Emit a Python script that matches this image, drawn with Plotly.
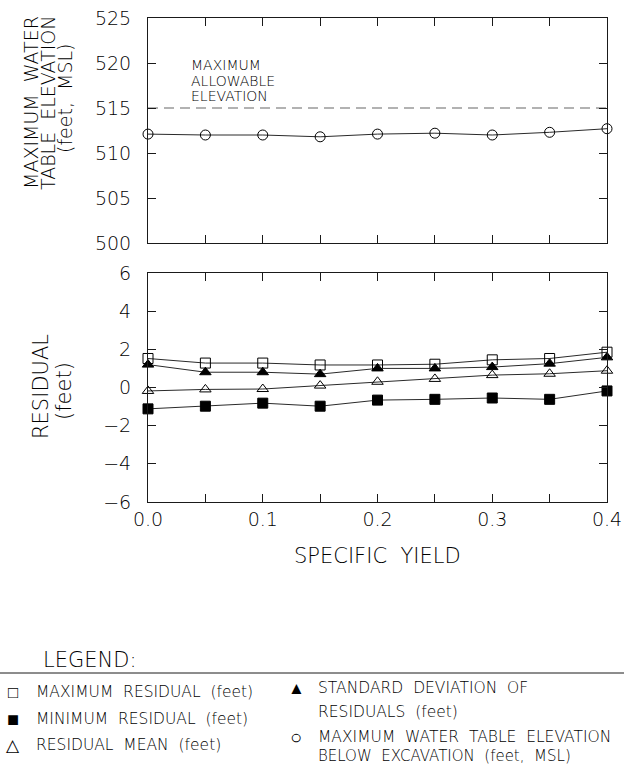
import plotly.graph_objects as go

# ---------------- data ----------------
specific_yield = [0.0, 0.05, 0.10, 0.15, 0.20, 0.25, 0.30, 0.35, 0.40]
max_wt_elev = [512.1, 512.0, 512.0, 511.8, 512.1, 512.2, 512.0, 512.3, 512.7]
max_allowable = 515.0

max_residual = [1.52, 1.28, 1.28, 1.18, 1.18, 1.22, 1.45, 1.52, 1.85]
min_residual = [-1.12, -0.98, -0.82, -0.98, -0.66, -0.62, -0.55, -0.62, -0.18]
mean_residual = [-0.18, -0.10, -0.08, 0.10, 0.30, 0.45, 0.65, 0.72, 0.88]
std_residual = [1.20, 0.80, 0.80, 0.70, 1.00, 1.00, 1.07, 1.25, 1.58]

x_tickvals = [0.0, 0.05, 0.10, 0.15, 0.20, 0.25, 0.30, 0.35, 0.40]
x_ticktext = ["0.0", "", "0.1", "", "0.2", "", "0.3", "", "0.4"]

# ---------------- layout geometry (pixels) ----------------
W, H = 628, 767
ML, MR, MT, MB = 148, 21, 18, 265
PW = W - ML - MR
PH = H - MT - MB


def px(x):
    return (x - ML) / PW


def py(y):
    return (H - MB - y) / PH


FONT = "DejaVu Sans"
INK = "#000000"
LINE = "#2a2a2a"
WT = 200

fig = go.Figure()

# top panel
fig.add_trace(go.Scatter(
    x=[specific_yield[0], specific_yield[-1]], y=[max_allowable, max_allowable],
    mode="lines", line=dict(color="#666666", width=1.2, dash="10px,6px"),
    xaxis="x", yaxis="y", showlegend=False, hoverinfo="skip"))
fig.add_trace(go.Scatter(
    x=specific_yield, y=max_wt_elev, mode="lines+markers",
    line=dict(color=LINE, width=1),
    marker=dict(symbol="circle-open", size=10, color=INK, line=dict(width=1)),
    xaxis="x", yaxis="y", cliponaxis=False, showlegend=False))

# bottom panel
series = [
    (max_residual, "square-open", 10),
    (std_residual, "triangle-up", 10),
    (mean_residual, "triangle-up-open", 10),
    (min_residual, "square", 10),
]
for vals, sym, sz in series:
    fig.add_trace(go.Scatter(
        x=specific_yield, y=vals, mode="lines+markers",
        line=dict(color=LINE, width=1),
        marker=dict(symbol=sym, size=sz, color=INK, line=dict(width=1, color=INK)),
        xaxis="x2", yaxis="y2", cliponaxis=False, showlegend=False))

axis_common = dict(
    showline=True, linecolor="#1a1a1a", linewidth=1, mirror="ticks",
    ticks="inside", ticklen=8, tickwidth=1, tickcolor="#1a1a1a",
    showgrid=False, zeroline=False, automargin=False,
    tickfont=dict(family=FONT, size=19, color=INK, weight=WT),
)

top_bottom = py(243)
bot_top = py(273)

fig.update_layout(
    width=W, height=H,
    margin=dict(l=ML, r=MR, t=MT, b=MB),
    paper_bgcolor="white", plot_bgcolor="white",
    font=dict(family=FONT, color=INK, weight=WT),
    xaxis=dict(domain=[0, 1], range=[0, 0.4], tickvals=x_tickvals,
               showticklabels=False, anchor="y", **axis_common),
    yaxis=dict(domain=[top_bottom, 1], range=[500, 525], dtick=5,
               ticklabelstandoff=12, anchor="x", **axis_common),
    xaxis2=dict(domain=[0, 1], range=[0, 0.4], tickvals=x_tickvals,
                ticktext=x_ticktext, ticklabelstandoff=0, anchor="y2",
                **axis_common),
    yaxis2=dict(domain=[0, bot_top], range=[-6, 6], dtick=2,
                ticklabelstandoff=12, anchor="x2", **axis_common),
)

ann = []


def text(x, y, s, size, xanchor="left", angle=0):
    ann.append(dict(x=px(x), y=py(y), xref="paper", yref="paper", text=s,
                    showarrow=False, xanchor=xanchor, yanchor="middle",
                    textangle=angle,
                    font=dict(family=FONT, size=size, color=INK, weight=WT)))


# y axis titles
text(31, 103, "MAXIMUM  WATER", 19, "center", -90)
text(48, 103, "TABLE  ELEVATION", 19, "center", -90)
text(65, 98, "(feet,  MSL)", 19, "center", -90)
text(41, 387, "RESIDUAL", 21, "center", -90)
text(64, 391, "(feet)", 21, "center", -90)

# x axis title
text(377, 556, "SPECIFIC  YIELD", 21, "center")

# inner annotation
text(189, 65, "MAXIMUM", 14)
text(189, 81, "ALLOWABLE", 14)
text(189, 96, "ELEVATION", 14)

# legend
text(41, 660, "LEGEND:", 21)
text(13, 692, "□", 17, "center")
text(34, 692, "MAXIMUM  RESIDUAL  (feet)", 15.5)
text(13, 719, "■", 20, "center")
text(34, 719, "MINIMUM  RESIDUAL  (feet)", 15.5)
text(13, 745, "△", 17, "center")
text(34, 745, "RESIDUAL  MEAN  (feet)", 15.5)
text(296, 688, "▲", 17, "center")
text(316, 688, "STANDARD  DEVIATION  OF", 15.5)
text(316, 712, "RESIDUALS  (feet)", 15.5)
text(296, 737, "○", 20, "center")
text(316, 737, "MAXIMUM  WATER  TABLE  ELEVATION", 15.5)
text(316, 756, "BELOW  EXCAVATION  (feet,  MSL)", 15)

fig.update_layout(annotations=ann)
fig.add_shape(type="line", xref="paper", yref="paper",
              x0=px(0), x1=px(624), y0=py(673), y1=py(673),
              line=dict(color="#1a1a1a", width=1))

fig.write_html(
    "out.html",
    config={"displayModeBar": False},
    post_script="document.body.style.margin='0';"
                "document.body.style.overflow='hidden';",
)
